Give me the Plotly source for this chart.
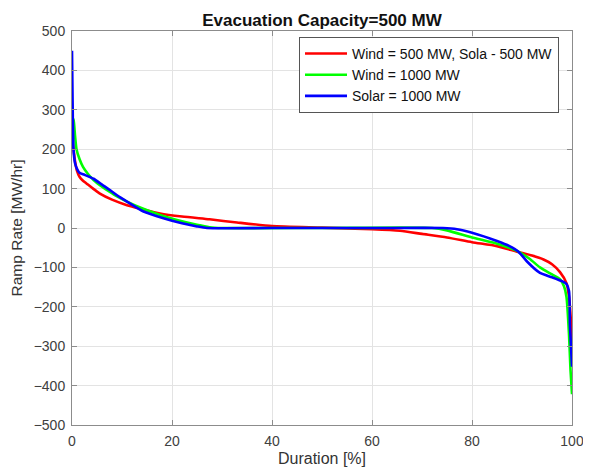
import plotly.graph_objects as go

# Duration [%] and ramp rate [MW/hr]
red_x = [0, 0.3, 0.6, 1.0, 1.5, 2.2, 2.9, 4.0, 5.5, 8, 11, 14, 17.6, 22, 27.5, 33, 40, 50, 60, 65.6, 70, 75, 80, 85, 89, 92, 94.3, 96, 97.6, 98.9, 99.4, 99.8, 100]
red_y = [235, 200, 170, 145, 130, 120, 113, 102, 88, 72, 58, 48, 37, 29, 22, 14, 5, 1, -3, -7, -15, -24, -36, -46, -60, -70, -80, -92, -112, -140, -175, -240, -300]

green_x = [0, 0.3, 0.6, 0.9, 1.5, 2.2, 3.2, 4.3, 6, 7.5, 9, 11, 14, 17.6, 21, 25, 27.5, 30, 50, 72, 75, 80, 85, 89, 91.5, 93.6, 96, 97.6, 98.4, 98.9, 99.4, 99.7, 100]
green_y = [280, 275, 235, 200, 175, 155, 137, 122, 105, 92, 80, 67, 50, 33, 20, 8, 2, 0, 0, 0, -6, -24, -40, -58, -78, -100, -118, -130, -148, -175, -270, -360, -422]

blue_x = [0, 0.1, 0.3, 0.6, 1.0, 1.5, 2.5, 4.3, 6, 7.5, 9, 11, 14.3, 18.3, 22, 25, 27, 40, 60, 74.2, 77, 80, 85, 87.5, 89.3, 91, 93.6, 96, 98, 98.9, 99.4, 99.6, 100]
blue_y = [450, 340, 200, 165, 150, 140, 135, 125, 110, 97, 83, 67, 42, 25, 12, 4, 0, 0, 0, 0, -3, -12, -33, -46, -60, -85, -114, -125, -135, -142, -160, -250, -352]

series = [
    ("Wind = 500 MW, Sola - 500 MW", red_x, red_y, "#ff0000"),
    ("Wind = 1000 MW", green_x, green_y, "#00ff00"),
    ("Solar = 1000 MW", blue_x, blue_y, "#0000ff"),
]

x_ticks = [0, 20, 40, 60, 80, 100]
y_ticks = [500, 400, 300, 200, 100, 0, -100, -200, -300, -400, -500]

fig = go.Figure()
for name, xs, ys, col in series:
    fig.add_trace(go.Scatter(x=xs, y=ys, mode="lines", name=name,
                             line=dict(color=col, width=2.6, shape="spline", smoothing=0.6)))

font = "Liberation Sans, Arial, sans-serif"
axis_common = dict(
    showgrid=True, gridcolor="#e3e3e3", gridwidth=1,
    showline=True, linecolor="#8c8c8c", linewidth=1, mirror="ticks",
    ticks="inside", ticklen=5, tickcolor="#8c8c8c",
    tickfont=dict(family=font, size=14, color="#404040"),
    zeroline=False, automargin=False,
)
fig.update_layout(
    width=583, height=464,
    margin=dict(l=64, r=19, t=23, b=47, autoexpand=False),
    paper_bgcolor="white", plot_bgcolor="white",
    title=dict(text="<b>Evacuation Capacity=500 MW</b>", x=0.5, xanchor="center",
               xref="paper", y=1, yref="paper", yanchor="bottom", pad=dict(b=5),
               font=dict(family=font, size=17, color="#111111")),
    xaxis=dict(range=[0, 100], tickvals=x_ticks, ticklabelstandoff=3,
               title=dict(text="Duration [%]", font=dict(family=font, size=16, color="#333333"), standoff=5),
               **axis_common),
    yaxis=dict(range=[-500, 500], tickvals=y_ticks, ticklabelstandoff=3,
               title=dict(text="Ramp Rate [MW/hr]", font=dict(family=font, size=15.5, color="#333333"), standoff=9),
               **axis_common),
    legend=dict(x=0.974, y=0.985, xanchor="right", yanchor="top",
                bgcolor="white", bordercolor="#555555", borderwidth=1,
                font=dict(family=font, size=14, color="#111111"),
                tracegroupgap=0, itemwidth=42),
    showlegend=True,
)

fig.write_html("out.html")
